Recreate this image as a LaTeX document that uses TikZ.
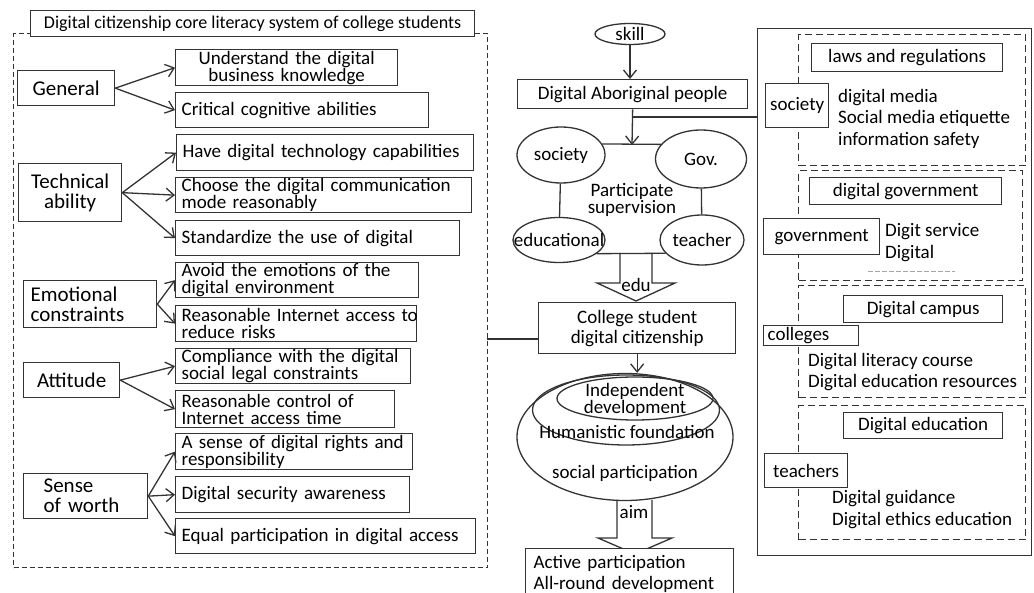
\documentclass[tikz,border=0pt]{standalone}
\usepackage{fontspec}
\setmainfont{Carlito}
\usepackage{tikz}
\usetikzlibrary{shapes.geometric}
\usetikzlibrary{arrows.meta}
\tikzstyle{ink}=[draw=black!80, line width=1.3pt]
\tikzstyle{box}=[ink, fill=white, anchor=north west, inner sep=0pt]
\tikzstyle{leaf}=[box, align=left, inner xsep=6pt, font=\fontsize{19}{17}\selectfont]
\tikzstyle{cat}=[box, align=center, font=\fontsize{21}{20}\selectfont]
\tikzstyle{mid}=[box, align=center, font=\fontsize{19}{20}\selectfont]
\tikzstyle{oval}=[ellipse, ink, inner sep=0pt, font=\fontsize{19}{20}\selectfont]
\tikzstyle{txt}=[inner sep=0pt, align=center, font=\fontsize{19}{17}\selectfont]
\tikzstyle{note}=[inner sep=0pt, anchor=west, align=left, font=\fontsize{19}{21.5}\selectfont]
\tikzstyle{group}=[ink, dash pattern=on 7pt off 4pt, anchor=north west, inner sep=0pt]
\tikzstyle{arr}=[ink, -{Straight Barb[length=8pt,width=13pt]}]

\begin{document}
\begin{tikzpicture}[x=1pt,y=-1pt]
    \useasboundingbox (0,0) rectangle (1034,593);

    %literacy system
    \node [ink, dash pattern=on 5pt off 3pt, anchor=north west, inner sep=0pt, minimum width=474pt, minimum height=534pt] (sys) at (13,33) {};
    \node [box, minimum width=444pt, minimum height=26pt, font=\fontsize{18}{20}\selectfont] (title) at (30,10) {Digital citizenship core literacy system of college students};

    \node [cat, minimum width=97pt, minimum height=35pt] (gen) at (17,70) {General};
    \node [cat, minimum width=103pt, minimum height=58pt] (tech) at (18,163) {Technical\\ability};
    \node [cat, align=left, text width=119pt, inner xsep=7pt, minimum height=47pt] (emo) at (23,280) {Emotional\\constraints};
    \node [cat, minimum width=96pt, minimum height=35pt] (att) at (23,362) {Attitude};
    \node [cat, align=left, text width=84pt, inner xsep=20pt, minimum height=45pt] (worth) at (23,473) {Sense\\of worth};

    \node [leaf, align=center, text width=210pt, minimum height=36pt] (under) at (175,49) {Understand the digital\\business knowledge};
    \node [leaf, text width=241pt, minimum height=35pt] (crit) at (175,92) {Critical cognitive abilities};
    \node [leaf, text width=285pt, minimum height=36pt] (have) at (176,134) {Have digital technology capabilities};
    \node [leaf, text width=284pt, minimum height=35pt] (choose) at (175,177) {Choose the digital communication\\mode reasonably};
    \node [leaf, text width=272pt, minimum height=35pt] (stand) at (175,220) {\makebox[262pt][s]{Standardize the use of digital}};
    \node [leaf, text width=231pt, minimum height=35pt] (avoid) at (175,262) {Avoid the emotions of the\\digital environment};
    \node [leaf, text width=229pt, minimum height=36pt] (reas) at (175,305) {\mbox{Reasonable Internet access to}\\reduce risks};
    \node [leaf, text width=223pt, minimum height=35pt] (comp) at (175,348) {Compliance with the digital\\social legal constraints};
    \node [leaf, text width=207pt, minimum height=37pt] (ctrl) at (175,390) {Reasonable control of\\Internet access time};
    \node [leaf, text width=225pt, minimum height=36pt] (rights) at (175,433) {A sense of digital rights and\\responsibility};
    \node [leaf, text width=222pt, minimum height=36pt] (secu) at (175,476) {Digital security awareness};
    \node [leaf, text width=288pt, minimum height=35pt] (equal) at (175,518) {Equal participation in digital access};

    \foreach \t in {under,crit} \draw [arr] (gen.east) -- (\t.west);
    \foreach \t in {have,choose,stand} \draw [arr] (tech.east) -- (\t.west);
    \foreach \t in {avoid,reas} \draw [arr] (emo.east) -- (\t.west);
    \foreach \t in {comp,ctrl} \draw [arr] (att.east) -- (\t.west);
    \foreach \t in {rights,secu,equal} \draw [arr] (worth.east) -- (\t.west);

    %middle flow
    \node [oval, minimum width=70pt, minimum height=21pt] (skill) at (630,34) {skill};
    \node [mid, minimum width=230pt, minimum height=29pt] (ab) at (517,79) {Digital Aboriginal people};
    \node [oval, minimum width=88pt, minimum height=56pt] (soc) at (561,155) {society};
    \node [oval, minimum width=91pt, minimum height=58pt] (gov) at (701,159) {Gov.};
    \node [oval, minimum width=92pt, minimum height=45pt] (edu) at (559,240) {};
    \node [txt] (edutxt) at (559,240) {educational};
    \node [oval, minimum width=84pt, minimum height=50pt] (tea) at (702,240) {teacher};
    \node [txt] (sup) at (632,200) {Participate\\supervision};
    \coordinate (tap) at (632,117);
    \coordinate (hub) at (632,145);

    \draw [arr] (skill.south) -- (skill.south |- ab.north);
    \draw [arr] (ab.south) -- (hub);
    \draw [ink] (tap) -- (tap -| 757,0);
    \draw [ink] (soc.15) -- (gov.160);
    \draw [ink] (soc) -- (edu);
    \draw [ink] (gov) -- (tea);
    \draw [ink] (edu.-20) -- (tea.200);

    \draw [ink, line join=miter] (620,253) -- (620,283) -- (597,283) -- (636,301) -- (675,283) -- (652,283) -- (652,253);
    \node [txt] (edulab) at (636,285) {edu};

    \node [mid, minimum width=197pt, minimum height=51pt] (col) at (538,302) {College student\\digital citizenship};
    \coordinate (link) at (487,339);
    \draw [ink] (link) -- (link -| col.west);

    \node [oval, minimum width=216pt, minimum height=127pt] (par) at (625,437) {};
    \node [oval, minimum width=187pt, minimum height=70pt] (hum) at (626,410) {};
    \node [oval, minimum width=156pt, minimum height=43pt] (ind) at (635,398.5) {};
    \node [txt] (indtxt) at (635,400) {Independent\\development};
    \node [txt] (humtxt) at (627,432) {Humanistic foundation};
    \node [txt] (partxt) at (625,473) {social participation};
    \draw [arr] (col.south) -- (col.south |- par.north);

    \draw [ink, line join=miter] (617,500) -- (617,538) -- (598,538) -- (635,554) -- (672,538) -- (652,538) -- (652,500);
    \node [txt] (aimlab) at (634,512) {aim};

    \node [mid, align=left, text width=192pt, inner xsep=8pt, minimum height=50pt, font=\fontsize{19}{21}\selectfont] (fin) at (525,548) {Active participation\\All-round development};

    %actors
    \node [ink, anchor=north west, inner sep=0pt, minimum width=274pt, minimum height=527pt] (frame) at (757,28) {};

    \node [group, minimum width=227pt, minimum height=131pt] (g1) at (798,34) {};
    \node [group, minimum width=224pt, minimum height=110pt] (g2) at (798,170) {};
    \node [group, minimum width=227pt, minimum height=112pt] (g3) at (798,285) {};
    \node [group, minimum width=227pt, minimum height=134pt] (g4) at (798,405) {};

    \node [mid, minimum width=191pt, minimum height=28pt] (laws) at (811,43) {laws and regulations};
    \node [mid, minimum width=192pt, minimum height=27pt] (dgov) at (809,177) {digital government};
    \node [mid, minimum width=159pt, minimum height=27pt] (dcam) at (843,295) {Digital campus};
    \node [mid, minimum width=159pt, minimum height=26pt] (dedu) at (843,412) {Digital education};

    \node [mid, minimum width=63pt, minimum height=44pt] (socb) at (765,83) {society};
    \node [mid, minimum width=116pt, minimum height=36pt] (govb) at (763,218) {government};
    \node [mid, align=left, text width=87pt, inner xsep=4pt, minimum height=20pt] (colb) at (763,325) {colleges};
    \node [mid, minimum width=83pt, minimum height=34pt] (teab) at (764,453) {teachers};

    \node [note] (n1) at (838,118.5) {digital media\\Social media etiquette\\information safety};
    \node [note] (n2) at (885,242.5) {Digit service\\Digital};
    \draw [black!35, line width=1pt, dash pattern=on 5pt off 2pt] (868,272) -- (955,272);
    \node [note] (n3) at (808,372) {Digital literacy course\\Digital education resources};
    \node [note] (n4) at (832,509.5) {Digital guidance\\Digital ethics education};

\end{tikzpicture}
\end{document}
